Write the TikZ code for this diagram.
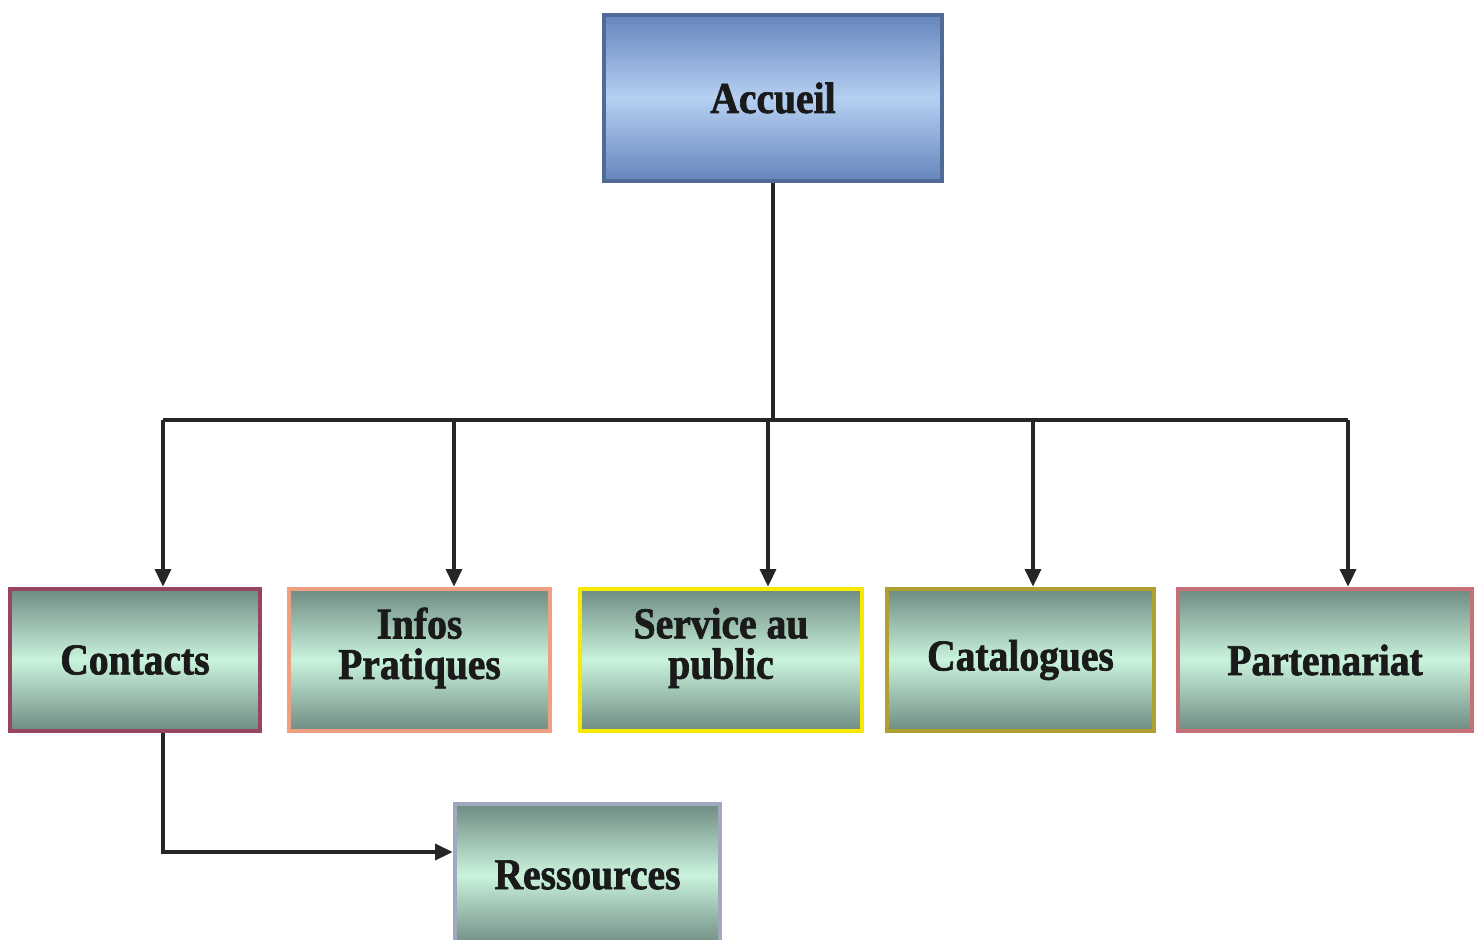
\documentclass[tikz,border=0pt]{standalone}
\usepackage{fontspec}
\newfontfamily\boxfont[FakeStretch=0.9,FakeBold=1.6]{Liberation Serif Bold}
\usepackage{tikz}
\usetikzlibrary{arrows.meta}

\definecolor{boxtop}{HTML}{6F8B82}
\definecolor{boxmid}{HTML}{C9F3DC}
\definecolor{hometop}{HTML}{6585BC}
\definecolor{homemid}{HTML}{B6D0F2}
\definecolor{txt}{HTML}{1A1A1A}

\begin{document}
\begin{tikzpicture}[
	page/.style={draw,line width=2.6pt,minimum height=2.84cm,align=center,text=txt,
		font=\boxfont\fontsize{25}{23}\selectfont,
		top color=boxtop,bottom color=boxtop,middle color=boxmid},
	twoline/.style={text depth=0.67cm},
	link/.style={line width=2.1pt,draw=black!85},
	arr/.style={link,-{Triangle[length=10pt,width=9pt]}}]
	\useasboundingbox (0,0) rectangle (29.62,-18.78);

	%boxes
	\node[page,draw=hometop!80!black,minimum width=6.76cm,minimum height=3.32cm,
		top color=hometop,bottom color=hometop,middle color=homemid] (accueil) at (15.46,-1.96) {Accueil};
	\node[page,draw={rgb,255:red,150;green,70;blue,95},minimum width=5.0cm]  (contacts) at (2.70,-13.20) {Contacts};
	\node[page,twoline,draw={rgb,255:red,240;green,160;blue,128},minimum width=5.22cm] (infos) at (8.39,-13.20) {Infos\\Pratiques};
	\node[page,twoline,draw={rgb,255:red,246;green,232;blue,0},minimum width=5.64cm] (service) at (14.42,-13.20) {Service au\\public};
	\node[page,draw={rgb,255:red,176;green,160;blue,48},minimum width=5.34cm] (catalogues) at (20.41,-13.20) {Catalogues};
	\node[page,draw={rgb,255:red,200;green,112;blue,120},minimum width=5.88cm] (partenariat) at (26.50,-13.20) {Partenariat};
	\node[page,draw={rgb,255:red,160;green,168;blue,192},minimum width=5.30cm] (ressources) at (11.75,-17.50) {Ressources};

	%connectors
	\coordinate (hub) at (15.46,-8.40);
	\coordinate (d1) at (3.26,-8.40);
	\coordinate (d2) at (9.08,-8.40);
	\coordinate (d3) at (15.36,-8.40);
	\coordinate (d4) at (20.66,-8.40);
	\coordinate (d5) at (26.96,-8.40);
	\coordinate (r1) at (3.26,-17.04);
	\draw[link] (accueil.south) -- (hub);
	\draw[link] (d1) -- (d5);
	\draw[arr] (d1) -- (d1 |- contacts.north);
	\draw[arr] (d2) -- (d2 |- infos.north);
	\draw[arr] (d3) -- (d3 |- service.north);
	\draw[arr] (d4) -- (d4 |- catalogues.north);
	\draw[arr] (d5) -- (d5 |- partenariat.north);
	\draw[arr] (d1 |- contacts.south) -- (r1) -- (r1 -| ressources.west);
\end{tikzpicture}
\end{document}
